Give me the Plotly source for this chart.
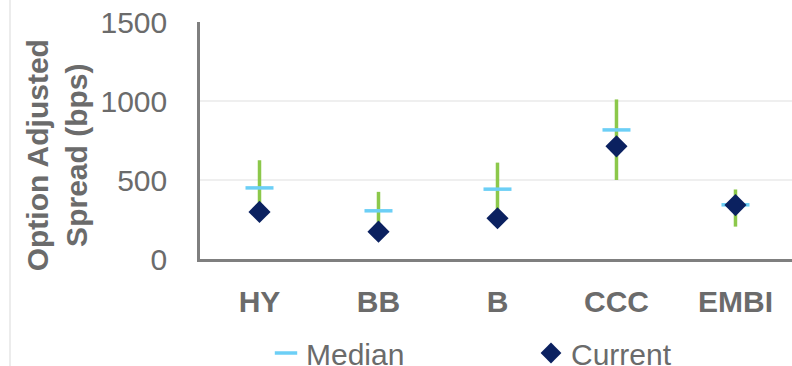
import plotly.graph_objects as go

# Option-adjusted spreads by credit bucket (bps)
categories = ["HY", "BB", "B", "CCC", "EMBI"]
range_low = [295, 175, 255, 500, 205]
range_high = [625, 425, 610, 1010, 440]
median = [450, 305, 442, 817, 343]
current = [298, 173, 258, 713, 341]
y_ticks = [0, 500, 1000, 1500]

GREEN = "#8cc84b"
LIGHT_BLUE = "#6ccff6"
NAVY = "#0b2160"
TEXT = "#6b6b6b"
FONT = "Liberation Sans, Arial, sans-serif"

# vertical low-high bars, one segment per category
rx, ry = [], []
for c, lo, hi in zip(categories, range_low, range_high):
    rx += [c, c, None]
    ry += [lo, hi, None]

fig = go.Figure()
fig.add_trace(go.Scatter(
    x=rx, y=ry, mode="lines", showlegend=False, hoverinfo="skip",
    line=dict(color=GREEN, width=3.5),
))
fig.add_trace(go.Scatter(
    x=categories, y=median, mode="markers", name="Median",
    marker=dict(symbol="line-ew", size=20, line=dict(color=LIGHT_BLUE, width=3.5)),
))
fig.add_trace(go.Scatter(
    x=categories, y=current, mode="markers", name="Current",
    marker=dict(symbol="diamond", size=17, color=NAVY, line=dict(width=0)),
))

fig.update_layout(
    width=792, height=366,
    margin=dict(l=200, r=0, t=22, b=107, autoexpand=False),
    paper_bgcolor="white", plot_bgcolor="white",
    font=dict(family=FONT, color=TEXT, size=30),
    legend=dict(
        orientation="h", xref="container", yref="container",
        x=266 / 792, xanchor="left", y=(366 - 353) / 366, yanchor="middle",
        font=dict(size=30, color=TEXT), entrywidth=220, entrywidthmode="pixels",
        bgcolor="rgba(0,0,0,0)",
    ),
    annotations=[dict(
        text="<b>Option Adjusted<br>Spread (bps)</b>",
        xref="paper", yref="paper", x=(57 - 200) / 592, y=(258.7 - 155) / 237,
        xanchor="center", yanchor="middle", textangle=-90, showarrow=False,
        font=dict(size=30, color=TEXT, family=FONT),
    )],
    shapes=[dict(
        type="line", xref="paper", yref="paper",
        x0=(10 - 200) / 592, x1=(10 - 200) / 592, y0=-1.0, y1=1.2,
        line=dict(color="#e6e6e6", width=1.5),
    )],
)

fig.update_xaxes(
    type="category", categoryorder="array", categoryarray=categories,
    range=[-0.5, 4.475], showgrid=False, zeroline=False,
    showline=True, linecolor="#7f7f7f", linewidth=2.5,
    ticks="", ticklabelstandoff=14,
    tickfont=dict(size=30, color=TEXT, family=FONT, weight="bold"),
)
fig.update_yaxes(
    range=[0, 1500], tickvals=y_ticks, showgrid=True, gridcolor="#efefef", gridwidth=2,
    zeroline=False, showline=True, linecolor="#7f7f7f", linewidth=2.5,
    ticks="", ticklabelstandoff=24,
    tickfont=dict(size=30, color=TEXT, family=FONT),
)

fig.write_html("out.html")
